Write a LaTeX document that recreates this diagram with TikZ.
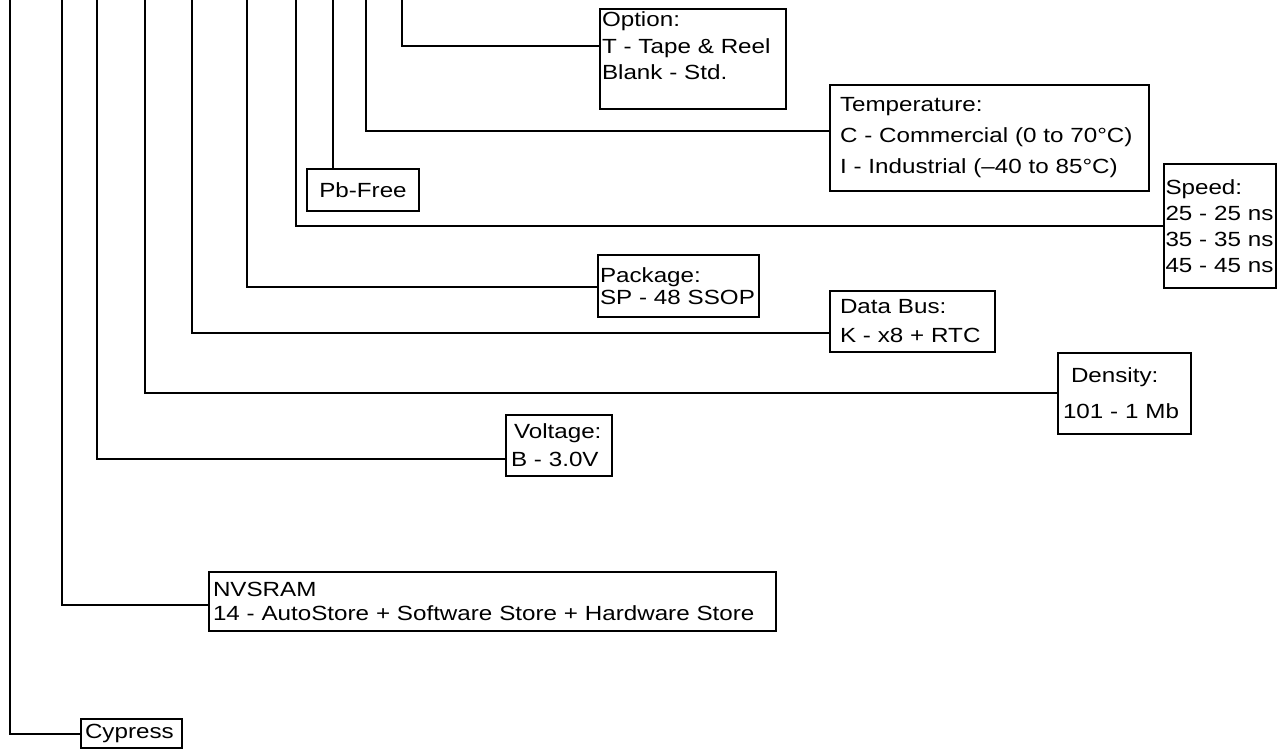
\documentclass[tikz,border=0pt]{standalone}
\usepackage{fontspec}
\setmainfont{Liberation Sans}[FakeStretch=1.18]
\usepackage{tikz}

\tikzset{
  partbox/.style={draw, line width=2pt, anchor=north west, align=left,
    inner ysep=0pt, font=\fontsize{20.5}{26}\selectfont},
  link/.style={line width=2pt}
}

\begin{document}
\begin{tikzpicture}[x=1pt,y=-1pt]
\useasboundingbox (0,0) rectangle (1286,751);

% ordering code fields
\node[partbox, inner xsep=2pt, text width=182pt, minimum height=100pt,
  font=\fontsize{20.5}{26.5}\selectfont] (opt) at (599,8)
  {Option:\\T - Tape \& Reel\\Blank - Std.\\\mbox{}};
\node[partbox, inner xsep=10pt, text width=299pt, minimum height=106pt,
  font=\fontsize{20.5}{31}\selectfont] (temp) at (829,84)
  {Temperature:\\C - Commercial (0 to 70°C)\\I - Industrial (–40 to 85°C)};
\node[partbox, align=center, inner xsep=6pt, text width=100pt, minimum height=42pt] (pb) at (306,168)
  {Pb-Free};
\node[partbox, inner xsep=1.5pt, text width=109pt, minimum height=124pt] (spd) at (1163,163)
  {Speed:\\25 - 25 ns\\35 - 35 ns\\45 - 45 ns};
\node[partbox, inner xsep=2pt, text width=157pt, minimum height=62pt,
  font=\fontsize{20.5}{22}\selectfont] (pkg) at (597,254)
  {Package:\\SP - 48 SSOP};
\node[partbox, inner xsep=10pt, text width=145pt, minimum height=61pt,
  font=\fontsize{20.5}{29}\selectfont] (bus) at (829,290)
  {Data Bus:\\K - x8 + RTC};
\node[partbox, inner xsep=5pt, text width=123pt, minimum height=81pt,
  font=\fontsize{20.5}{36}\selectfont] (dens) at (1057,352)
  {\hspace*{8pt}Density:\\101 - 1 Mb};
\node[partbox, inner xsep=5pt, text width=96pt, minimum height=61pt,
  font=\fontsize{20.5}{28}\selectfont] (volt) at (505,414)
  {\hspace*{3pt}Voltage:\\B - 3.0V};
\node[partbox, inner xsep=4pt, text width=559pt, minimum height=59pt,
  font=\fontsize{20.5}{24}\selectfont] (nv) at (208,571)
  {NVSRAM\\14 - AutoStore + Software Store + Hardware Store};
\node[partbox, inner xsep=4pt, text width=93pt, minimum height=29pt] (cyp) at (80,718)
  {Cypress};

% leader lines from the part number
\foreach \Xc/\Nm/\Dy in {10/cyp/0,62/nv/-3.5,97/volt/-13.5,145/dens/0.5,
  192/bus/-11.5,247/pkg/-1,296/spd/0,366/temp/7,402/opt/13}
{
  \coordinate (top\Nm) at (\Xc,0);
  \draw[link] (top\Nm) |- ([yshift=\Dy pt]\Nm.west);
}
\coordinate (toppb) at (333,0);
\draw[link] (toppb) -- (toppb |- pb.north);
\end{tikzpicture}
\end{document}
